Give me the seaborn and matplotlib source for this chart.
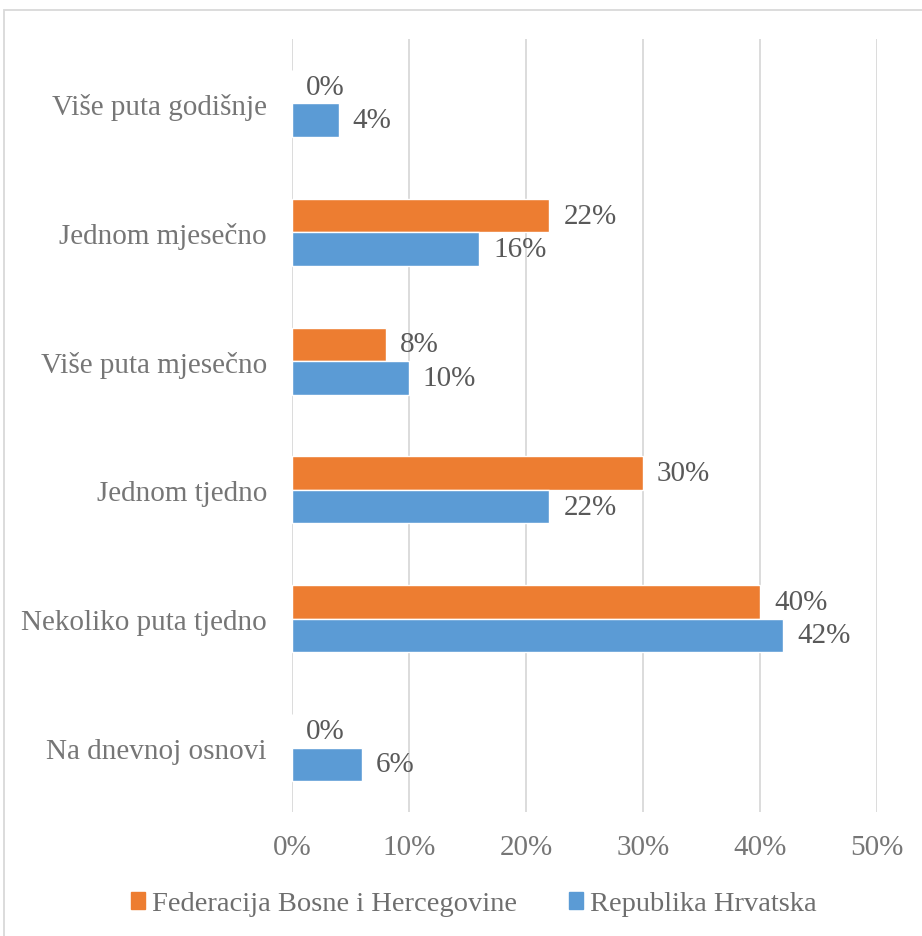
import matplotlib
matplotlib.use("Agg")
import matplotlib.pyplot as plt
import seaborn as sns
import pandas as pd
from matplotlib.patches import Rectangle

categories = ["Više puta godišnje", "Jednom mjesečno", "Više puta mjesečno",
              "Jednom tjedno", "Nekoliko puta tjedno", "Na dnevnoj osnovi"]
series_names = ["Federacija Bosne i Hercegovine", "Republika Hrvatska"]
fbih = [0, 22, 8, 30, 40, 0]
rh = [4, 16, 10, 22, 42, 6]
x_ticks = [0, 10, 20, 30, 40, 50]

df = pd.DataFrame({
    "cat": categories * 2,
    "series": [series_names[0]] * len(categories) + [series_names[1]] * len(categories),
    "value": fbih + rh,
})

sns.set_theme(style="white")
plt.rcParams["font.family"] = ["Liberation Serif", "DejaVu Serif"]

fig = plt.figure(figsize=(9.22, 9.37), dpi=100)
ax = fig.add_axes([292 / 922, 1 - 813 / 937, (877 - 292) / 922, (813 - 40) / 937])

colors = ["#ED7D31", "#5B9BD5"]
sns.barplot(data=df, y="cat", x="value", hue="series", order=categories,
            hue_order=series_names, palette=colors, orient="h", width=0.52,
            saturation=1, ax=ax, legend=False, zorder=3)

for c in ax.containers:
    ax.bar_label(c, labels=[f"{v:.0f}%" for v in c.datavalues], padding=10,
                 fontsize=21, color="#595959")

ax.set_xlim(0, 50)
ax.set_xticks(x_ticks)
ax.set_xticklabels([f"{t}%" for t in x_ticks])
ax.grid(axis="x", color="#D9D9D9", linewidth=1.3, zorder=0)
ax.set_axisbelow(True)
for s in ax.spines.values():
    s.set_visible(False)
ax.tick_params(axis="x", length=0, pad=16, labelsize=21, labelcolor="#767676")
ax.tick_params(axis="y", length=0, pad=18, labelsize=21, labelcolor="#767676")
ax.set_xlabel("")
ax.set_ylabel("")

handles = [Rectangle((0, 0), 1, 1, color=c) for c in colors]
fig.legend(handles, series_names, loc="center", bbox_to_anchor=(0.514, 1 - 905 / 937),
           ncol=2, frameon=False, fontsize=20.5, labelcolor="#6E6E6E",
           handlelength=0.47, handleheight=0.5, handletextpad=0.25, columnspacing=1.85)

fig.patches.append(Rectangle((4 / 922, -0.1), 1.2, 1 - 11 / 937 + 0.1,
                             transform=fig.transFigure, fill=False,
                             edgecolor="#D9D9D9", linewidth=1.3))

fig.savefig("out.png", dpi=100)
